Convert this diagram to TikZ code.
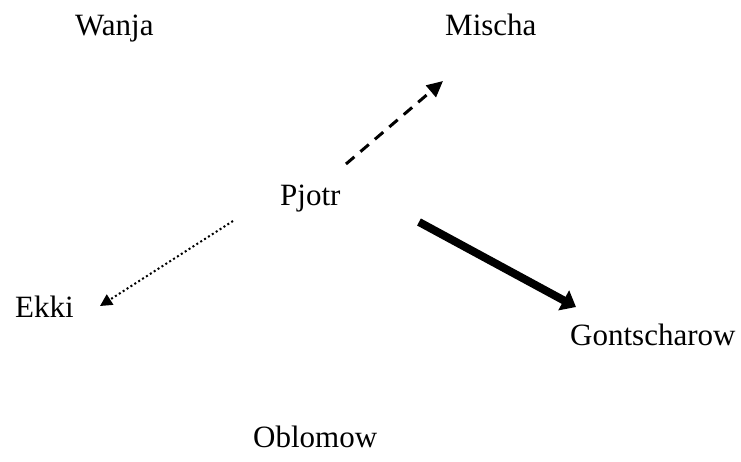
\documentclass[tikz,border=0pt]{standalone}
\usepackage{fontspec}
\setmainfont{Liberation Serif}
\usetikzlibrary{arrows.meta}
\begin{document}
\begin{tikzpicture}[x=1pt,y=-1pt,
  lbl/.style={anchor=base west,inner sep=0pt,font=\fontsize{31}{37}\selectfont},
  dasharrow/.style={line width=3pt,dash pattern=on 11pt off 8pt,-{Triangle[length=16pt,width=15pt]}},
  dotarrow/.style={line width=2pt,dash pattern=on 2pt off 2.6pt,-{Triangle[length=12pt,width=12pt]}},
  thickarrow/.style={line width=8pt,-{Triangle[length=14pt,width=22pt]}}]
\useasboundingbox (0,0) rectangle (741,461);
\node[lbl] (wanja) at (75,35) {Wanja};
\node[lbl] (mischa) at (445,35) {Mischa};
\node[lbl] (pjotr) at (280,205) {Pjotr};
\node[lbl] (ekki) at (15,317) {Ekki};
\node[lbl] (gont) at (570,345) {Gontscharow};
\node[lbl] (oblo) at (253,447) {Oblomow};
\coordinate (d1) at (346,164);
\coordinate (d2) at (443,81);
\coordinate (p1) at (233,221);
\coordinate (p2) at (100,306);
\coordinate (t1) at (419,222);
\coordinate (t2) at (576,307);
\draw[dasharrow] (d1) -- (d2);
\draw[dotarrow] (p1) -- (p2);
\draw[thickarrow] (t1) -- (t2);
\end{tikzpicture}
\end{document}
